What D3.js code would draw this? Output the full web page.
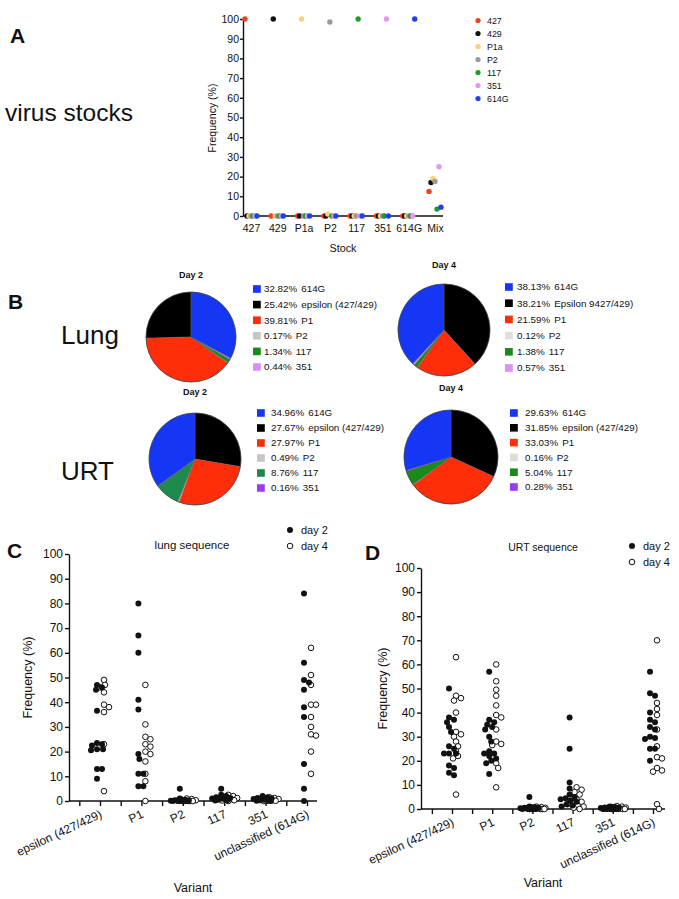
<!DOCTYPE html>
<html><head><meta charset="utf-8">
<script src="https://cdn.jsdelivr.net/npm/d3@7"></script>
<style>
body{margin:0;background:#fff}
svg text{font-family:"Liberation Sans",Arial,Helvetica,sans-serif;fill:#111}
</style>
</head><body>
<svg id="fig" width="679" height="899"></svg>
<script>
// ---------------- Panel A data ----------------
const stocks = ["427","429","P1a","P2","117","351","614G","Mix"];
const stockVariants = ["427","429","P1a","P2","117","351","614G"];
const stockColors = ["#f2401f","#111111","#ffcf7a","#9a9a9a","#1f9a2a","#e395f2","#1f3ff2"];
const freq427  = [100,0,0,0,0,0,0,12.5];
const freq429  = [0,100,0,0,0,0,0,17];
const freqP1a  = [0,0,100,1,0,0,0,19];
const freqP2   = [0,0,0,98.5,0,0,0,17.5];
const freq117  = [0,0,0,0,100,0,0,3.5];
const freq351  = [0,0,0,0,0,100,0,25];
const freq614G = [0,0,0,0,0,0,100,4.5];
const yTicks = [0,10,20,30,40,50,60,70,80,90,100];

// ---------------- Panel B data ----------------
const pieOrder = ["epsilon","P1","P2","117","351","614G"];  // drawing order
const legendOrder = ["614G","epsilon","P1","P2","117","351"];
const pieLungD2 = {epsilon:25.42, P1:39.81, P2:0.17, "117":1.34, "351":0.44, "614G":32.82};
const pieLungD4 = {epsilon:38.21, P1:21.59, P2:0.12, "117":1.38, "351":0.57, "614G":38.13};
const pieUrtD2  = {epsilon:27.67, P1:27.97, P2:0.49, "117":8.76, "351":0.16, "614G":34.96};
const pieUrtD4  = {epsilon:31.85, P1:33.03, P2:0.16, "117":5.04, "351":0.28, "614G":29.63};
const legLungD2 = {epsilon:"epsilon (427/429)", P1:"P1", P2:"P2", "117":"117", "351":"351", "614G":"614G"};
const legLungD4 = {epsilon:"Epsilon 9427/429)", P1:"P1", P2:"P2", "117":"117", "351":"351", "614G":"614G"};
const legUrtD2  = {epsilon:"epsilon (427/429)", P1:"P1", P2:"P2", "117":"117", "351":"351", "614G":"614G"};
const legUrtD4  = {epsilon:"epsilon (427/429)", P1:"P1", P2:"P2", "117":"117", "351":"351", "614G":"614G"};

// ---------------- Panels C / D data ----------------
const seqVariants = ["epsilon (427/429)","P1","P2","117","351","unclassified (614G)"];
const lungDay2 = [
  [47,46,45,36.5,23.5,23,22.5,21,21,20.5,13,13,9],
  [80,67,60,41,37,19,17,11,11,6,6],
  [5,1,0.5,0.3,0.2,0.1,0,0,0,0,0],
  [5,2.5,2,1.5,1.2,1,1,0.8,0.5,0.3,0.2],
  [2,1.5,1.2,1,0.8,0.5,0.5,0.3,0.2,0.1,0],
  [84,56,49,48,45,38,34,15,5,0]
];
const lungDay4 = [
  [49,47,46,44,39,38,36,23,4],
  [47,31,26,25,23,22,20,19,16,11,8,0],
  [1,0.8,0.5,0.3,0.2,0.1,0,0,0,0,0],
  [2.5,2,1.5,1.2,1,1,0.8,0.5,0.3,0.2,0],
  [1.5,1.2,1,0.8,0.5,0.4,0.3,0.2,0.1,0,0],
  [62,51,47,39,39,34,30,27,26.5,20,11]
];
const urtDay2 = [
  [50,38,37,36,34,32,26,25,23,23,23,18,17,15,14],
  [57,37,36,35,34,33,30,28,24,23,23,22,21,20,19,14.5],
  [5,1,0.8,0.5,0.4,0.3,0.2,0.1,0,0,0,0,0,0,0],
  [38,25,11,8.5,6,5,4.5,4,3.5,3,2,1.5,1],
  [1,0.8,0.6,0.5,0.4,0.3,0.2,0.1,0,0,0,0,0,0],
  [57,48,47,40,37,36,34,33,30,29.5,29,25,25,20]
];
const urtDay4 = [
  [63,47,46,45,40,32,31,30,28,26,24,22,21,6],
  [60,53,49.5,47,43,39,38,33,28,27,26.5,19,17,9],
  [1,0.8,0.6,0.5,0.4,0.3,0.2,0.1,0,0,0,0,0,0],
  [9,8,7,6,4,3,2.5,2,1.5,1,0.5,0],
  [1.2,1,0.8,0.6,0.5,0.4,0.3,0.2,0.1,0,0,0,0],
  [70,44,41.5,39,33,26,21.5,21,17,16,15.5,2,0]
];

// ---------------- drawing ----------------
const svg = d3.select("#fig");

function styleAxis(g, fs) {
  g.selectAll("path,line").attr("stroke","#111").attr("stroke-width",1.4);
  g.selectAll("text").attr("font-size",fs).attr("fill","#111");
}

// ===== Panel A =====
svg.append("text").attr("x",10).attr("y",43).attr("font-size",21).attr("font-weight","bold").text("A");
svg.append("text").attr("x",5).attr("y",121).attr("font-size",24.5).text("virus stocks");

const xA = d3.scalePoint().domain(stocks).range([251,435]);
const yA = d3.scaleLinear().domain([0,100]).range([216,19]);
const gA = svg.append("g");
gA.append("g").attr("transform","translate(243,0)")
  .call(d3.axisLeft(yA).tickValues(yTicks).tickSize(3).tickSizeOuter(0).tickPadding(1))
  .call(g=>styleAxis(g,10.5));
const xAxA = gA.append("g").attr("transform","translate(0,216)")
  .call(d3.axisBottom(xA).tickSize(0).tickPadding(9));
xAxA.select(".domain").remove();
styleAxis(xAxA,10.5);
gA.append("line").attr("x1",243).attr("x2",443).attr("y1",216).attr("y2",216).attr("stroke","#111").attr("stroke-width",1.4);
gA.append("text").attr("transform","translate(216,118) rotate(-90)").attr("text-anchor","middle").attr("font-size",10.5).text("Frequency (%)");
gA.append("text").attr("x",343).attr("y",252).attr("text-anchor","middle").attr("font-size",10.8).text("Stock");

const stockSeries = [freq427,freq429,freqP1a,freqP2,freq117,freq351,freq614G];
stockSeries.forEach((vals,j)=>{
  gA.append("g").selectAll("circle").data(vals).join("circle")
    .attr("cx",(d,i)=>xA(stocks[i])+(j-3)*2)
    .attr("cy",d=>yA(d)).attr("r",2.7).attr("fill",stockColors[j]);
});
const legA = gA.append("g");
stockVariants.forEach((v,j)=>{
  legA.append("circle").attr("cx",478).attr("cy",20.5+13*j).attr("r",2.6).attr("fill",stockColors[j]);
  legA.append("text").attr("x",487).attr("y",23.5+13*j).attr("font-size",8.8).text(v);
});

// ===== Panel B =====
svg.append("text").attr("x",8).attr("y",309).attr("font-size",21).attr("font-weight","bold").text("B");
svg.append("text").attr("x",61).attr("y",344).attr("font-size",26).text("Lung");
svg.append("text").attr("x",61).attr("y",480).attr("font-size",26).text("URT");

const pies = [
  {data:pieLungD2, labels:legLungD2, title:"Day 2", cx:191, cy:337, r:45, ty:278, dir:-1,
   sx:253, tx:264, ly:289, ls:15.6,
   colors:{"614G":"#1537f5",epsilon:"#000",P1:"#ff2d0a",P2:"#c6c6c6","117":"#1b8a1b","351":"#dc8ff0"}},
  {data:pieLungD4, labels:legLungD4, title:"Day 4", cx:444, cy:330, r:46, ty:268, dir:1,
   sx:505, tx:517, ly:287, ls:16.2,
   colors:{"614G":"#1537f5",epsilon:"#000",P1:"#ff2d0a",P2:"#dedede","117":"#1b8a1b","351":"#dc8ff0"}},
  {data:pieUrtD2, labels:legUrtD2, title:"Day 2", cx:195, cy:459, r:46, ty:395, dir:1,
   sx:257, tx:271, ly:413, ls:15,
   colors:{"614G":"#1537f5",epsilon:"#000",P1:"#ff2d0a",P2:"#c6c6c6","117":"#1e8a4e","351":"#9a3cf5"}},
  {data:pieUrtD4, labels:legUrtD4, title:"Day 4", cx:451, cy:457, r:47, ty:391, dir:1,
   sx:510, tx:525, ly:413, ls:14.8,
   colors:{"614G":"#1537f5",epsilon:"#000",P1:"#ff2d0a",P2:"#dcdcdc","117":"#1b8a1b","351":"#9a3cf5"}}
];
pies.forEach(p=>{
  const g = svg.append("g");
  const pie = d3.pie().sort(null).value(k=>p.data[k]).startAngle(0).endAngle(p.dir*2*Math.PI);
  const arc = d3.arc().innerRadius(0).outerRadius(p.r);
  g.append("g").attr("transform",`translate(${p.cx},${p.cy})`)
    .selectAll("path").data(pie(pieOrder)).join("path")
    .attr("d",arc).attr("fill",d=>p.colors[d.data]).attr("stroke","#666").attr("stroke-width",0.4);
  g.append("circle").attr("cx",p.cx).attr("cy",p.cy).attr("r",p.r).attr("fill","none").attr("stroke","#333").attr("stroke-width",0.6);
  g.append("text").attr("x",p.cx).attr("y",p.ty).attr("text-anchor","middle").attr("font-size",9).attr("font-weight","bold").text(p.title);
  legendOrder.forEach((k,i)=>{
    const yy = p.ly + p.ls*i;
    g.append("rect").attr("x",p.sx).attr("y",yy-3.8).attr("width",7.8).attr("height",7.6).attr("fill",p.colors[k]);
    const t = g.append("text").attr("x",p.tx).attr("y",yy+3.3).attr("font-size",9.8);
    t.append("tspan").text(d3.format(".2f")(p.data[k])+"%");
    t.append("tspan").attr("dx",4).text(p.labels[k]);
  });
});

// ===== Panels C / D =====
// simple beeswarm: spread coincident values sideways within +-maxOff
function swarm(values, cx, y) {
  const pts = values.map(v=>({v, py:y(v)})).sort((a,b)=>a.py-b.py);
  const placed = [];
  const D = 5, s = 1, maxOff = 9;
  pts.forEach(p=>{
    let best = null, bestGap = -1;
    for (let k=0;k<=2*maxOff/s;k++){
      const off = (k%2===1?1:-1)*Math.ceil(k/2)*s;
      const px = cx+off;
      const gap = placed.length ? d3.min(placed,q=>Math.hypot(q.px-px,q.py-p.py)) : Infinity;
      if (gap>=D) { best=px; break; }
      if (gap>bestGap+0.8) { bestGap=gap; best=px; }
    }
    p.px = best; placed.push(p);
  });
  return placed;
}

function scatterPanel(c, day2, day4) {
  const g = svg.append("g");
  const y = d3.scaleLinear().domain([0,100]).range([c.y0,c.y100]);
  const x = d3.scalePoint().domain(seqVariants).range([c.g0,c.g1]);
  const step = x.step();
  g.append("g").attr("transform",`translate(${c.ax},0)`)
    .call(d3.axisLeft(y).tickValues(yTicks).tickSize(4).tickSizeOuter(0).tickPadding(2))
    .call(a=>styleAxis(a,12));
  const cols = seqVariants.flatMap(v=>[x(v)-step/2, x(v)]);
  const xc = d3.scaleIdentity().domain([c.ax,c.axEnd]);
  const xa = g.append("g").attr("transform",`translate(0,${c.y0})`)
    .call(d3.axisBottom(xc).tickValues(cols).tickSize(5).tickFormat(""));
  xa.select(".domain").remove();
  styleAxis(xa,12);
  g.append("line").attr("x1",c.ax).attr("x2",c.axEnd).attr("y1",c.y0).attr("y2",c.y0).attr("stroke","#111").attr("stroke-width",1.4);
  g.selectAll(".vl").data(seqVariants).join("text")
    .attr("transform",d=>`translate(${x(d)+3},${c.y0+16}) rotate(-25)`)
    .attr("text-anchor","end").attr("font-size",12).text(d=>d);
  g.append("text").attr("transform",`translate(${c.ytx},${(c.y0+c.y100)/2}) rotate(-90)`)
    .attr("text-anchor","middle").attr("font-size",12.5).text("Frequency (%)");
  g.append("text").attr("x",c.vx).attr("y",c.vy).attr("text-anchor","middle").attr("font-size",12.5).text("Variant");
  g.append("text").attr("x",c.tx).attr("y",c.ty).attr("text-anchor","middle").attr("font-size",c.tfs).text(c.title);
  g.append("text").attr("x",c.lx).attr("y",c.ly).attr("font-size",21).attr("font-weight","bold").text(c.letter);
  // legend
  g.append("circle").attr("cx",c.kx).attr("cy",c.ky).attr("r",3).attr("fill","#111");
  g.append("text").attr("x",c.kx+11).attr("y",c.ky+4).attr("font-size",11).text("day 2");
  g.append("circle").attr("cx",c.kx).attr("cy",c.ky+16).attr("r",2.8).attr("fill","#fff").attr("stroke","#111").attr("stroke-width",1);
  g.append("text").attr("x",c.kx+11).attr("y",c.ky+20).attr("font-size",11).text("day 4");
  // points
  seqVariants.forEach((v,i)=>{
    const p4 = swarm(day4[i], x(v)+4, y);
    const p2 = swarm(day2[i], x(v)-3, y);
    g.append("g").selectAll("circle").data(p4).join("circle")
      .attr("cx",d=>d.px).attr("cy",d=>d.py).attr("r",2.8)
      .attr("fill","#fff").attr("stroke","#111").attr("stroke-width",1);
    g.append("g").selectAll("circle").data(p2).join("circle")
      .attr("cx",d=>d.px).attr("cy",d=>d.py).attr("r",3).attr("fill","#111");
  });
}

scatterPanel({y0:801,y100:554,ax:69,axEnd:317,g0:100,g1:307,ytx:32,vx:193,vy:892,
  tx:192,ty:549,tfs:11.5,title:"lung sequence",lx:7,ly:558,letter:"C",kx:290,ky:530}, lungDay2, lungDay4);
scatterPanel({y0:809,y100:568,ax:421,axEnd:665,g0:452,g1:653,ytx:387,vx:543,vy:887,
  tx:543,ty:551,tfs:10.5,title:"URT sequence",lx:365,ly:560,letter:"D",kx:632,ky:546}, urtDay2, urtDay4);
</script>
</body></html>
